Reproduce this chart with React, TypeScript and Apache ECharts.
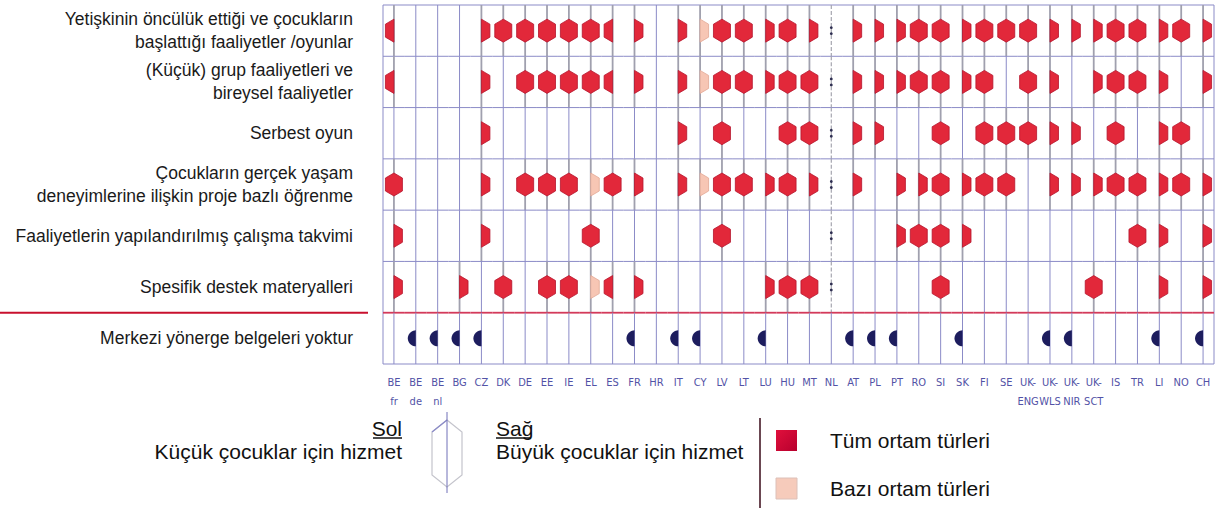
import React, { useEffect, useRef } from "react";
import * as echarts from "echarts";

const countries = ["BE\nfr","BE\nde","BE\nnl","BG","CZ","DK","DE","EE","IE","EL","ES","FR","HR","IT","CY","LV","LT","LU","HU","MT","NL","AT","PL","PT","RO","SI","SK","FI","SE","UK-\nENG","UK-\nWLS","UK-\nNIR","UK-\nSCT","IS","TR","LI","NO","CH"];

const rowLabels = [
  "Yetişkinin öncülük ettiği ve çocukların\nbaşlattığı faaliyetler /oyunlar",
  "(Küçük) grup faaliyetleri ve\nbireysel faaliyetler",
  "Serbest oyun",
  "Çocukların gerçek yaşam\ndeneyimlerine ilişkin proje bazlı öğrenme",
  "Faaliyetlerin yapılandırılmış çalışma takvimi",
  "Spesifik destek materyalleri",
  "Merkezi yönerge belgeleri yoktur",
];

// F = both (all settings), L = younger children only, R = older children only,
// r = older children only (some settings), ":" = not available, "" = none
const adultLedActivities = ["L","","","","R","F","F","F","F","F","L","R","","R","r","F","F","R","F","R",":","R","R","R","F","F","R","F","F","F","R","R","R","F","F","R","F","R"];
const groupActivities    = ["L","","","","R","","F","F","F","F","L","R","","R","r","F","F","R","F","F",":","R","R","R","F","F","R","F","","F","R","","R","F","F","R","","R"];
const freePlay           = ["","","","","R","","","","","","","","","R","","F","","","F","F",":","R","R","","","F","","F","F","F","R","R","","F","","R","F",""];
const projectLearning    = ["F","","","","R","","F","F","F","r","F","R","","R","r","F","F","R","F","R",":","R","","R","R","F","R","F","F","","R","R","R","F","F","R","F","R"];
const structuredSchedule = ["R","","","","R","","","","","F","","","","","","F","","","","",":","","","R","F","F","R","","","","","","","","F","R","","R"];
const supportMaterials   = ["R","","","R","","F","","F","F","r","L","R","","","","","","R","F","F",":","","","","","F","","","","","","","F","","","R","","R"];
// 1 = no central guidance documents (younger children)
const noCentralGuidance  = [0,1,1,1,1,0,0,0,0,0,0,1,0,1,1,0,0,1,0,0,0,1,1,1,0,0,1,0,0,0,1,1,0,0,0,1,0,1];

const activityRows = [adultLedActivities, groupActivities, freePlay, projectLearning, structuredSchedule, supportMaterials];

const RED = "#e2283a";
const RED_EDGE = "#b5142c";
const PINK = "#f7c6b4";
const PINK_EDGE = "#e2a896";
const NAVY = "#1d1d5e";
const GRIDC = "#8b8bc7";

function hasFont(name: string): boolean {
  try {
    const ctx = document.createElement("canvas").getContext("2d");
    if (!ctx) return false;
    const t = "BE UK-ENG WLS NIR";
    ctx.font = "20px monospace";
    const a = ctx.measureText(t).width;
    ctx.font = `20px '${name}', monospace`;
    const b = ctx.measureText(t).width;
    return Math.abs(a - b) > 0.5;
  } catch (e) {
    return false;
  }
}

export default function App() {
  const ref = useRef<HTMLDivElement>(null);
  useEffect(() => {
    document.body.style.margin = "0";
    if (!ref.current) return;
    const chart = echarts.init(ref.current, undefined, { renderer: "svg" });

    const regular = "'Liberation Sans', Arial, sans-serif";
    const condensed = hasFont("Liberation Sans Narrow")
      ? "'Liberation Sans Narrow'"
      : hasFont("DejaVu Sans Condensed")
      ? "'DejaVu Sans Condensed'"
      : null;
    const xFont = condensed ? `${condensed}, ${regular}` : regular;
    const xSize = condensed ? 11 : 10;

    const G = { left: 383, top: 5, width: 831, height: 359 };
    const rowH = G.height / 7;
    const redY = G.top + rowH * 6;

    const cells: number[][] = [];
    for (let r = 0; r < 7; r++) for (let i = 0; i < countries.length; i++) cells.push([i, r]);

    const codeOf = (i: number, r: number): string =>
      r < 6 ? activityRows[r][i] : noCentralGuidance[i] ? "N" : "";

    const gridSeries = {
      type: "custom",
      z: 1,
      silent: true,
      clip: false,
      data: cells,
      renderItem: (params: any, api: any) => {
        const i = api.value(0);
        const r = api.value(1);
        const c = api.coord([i, r]);
        const s = api.size([1, 1]);
        const cx = c[0], cy = c[1], w = s[0], h = s[1];
        const top = cy - h / 2, bot = cy + h / 2;
        const code = codeOf(i, r);
        const children: any[] = [];
        if (code === ":") {
          children.push({ type: "line", shape: { x1: cx, y1: top, x2: cx, y2: bot }, style: { stroke: "#a6a6b0", lineWidth: 1.2, lineDash: [4, 2] } });
          children.push({ type: "circle", shape: { cx, cy: cy - 3, r: 1.4 }, style: { fill: "#2d2d50" } });
          children.push({ type: "circle", shape: { cx, cy: cy + 3, r: 1.4 }, style: { fill: "#2d2d50" } });
        } else if (code && code !== "N") {
          children.push({ type: "line", shape: { x1: cx, y1: top, x2: cx, y2: bot }, style: { stroke: "#a0a0ae", lineWidth: 1.8 } });
        } else {
          children.push({ type: "line", shape: { x1: cx, y1: top, x2: cx, y2: bot }, style: { stroke: GRIDC, lineWidth: 1 } });
        }
        if (r < 6) {
          const red = r === 5;
          children.push({ type: "line", shape: { x1: cx - w / 2, y1: bot, x2: cx + w / 2, y2: bot }, style: { stroke: red ? "#d33a5a" : GRIDC, lineWidth: red ? 1.8 : 1 } });
        }
        return { type: "group", children };
      },
    };

    const hw = 8.5, hh = 11.5, sh = 6.5;
    const markSeries = {
      type: "custom",
      z: 3,
      silent: true,
      clip: false,
      data: cells,
      renderItem: (params: any, api: any) => {
        const i = api.value(0);
        const r = api.value(1);
        const code = codeOf(i, r);
        if (!code || code === ":") return { type: "group", children: [] };
        const c = api.coord([i, r]);
        const cx = c[0], cy = c[1];
        const children: any[] = [];
        if (code === "N") {
          const pts: number[][] = [];
          const R = 8;
          for (let k = 0; k <= 20; k++) {
            const a = Math.PI / 2 + (Math.PI * k) / 20;
            pts.push([cx + R * Math.cos(a), cy + R * Math.sin(a)]);
          }
          children.push({ type: "polygon", shape: { points: pts }, style: { fill: NAVY } });
        } else if (code === "F") {
          children.push({
            type: "polygon",
            shape: { points: [[cx, cy - hh], [cx + hw, cy - sh], [cx + hw, cy + sh], [cx, cy + hh], [cx - hw, cy + sh], [cx - hw, cy - sh]] },
            style: { fill: RED, stroke: RED_EDGE, lineWidth: 0.8 },
          });
        } else {
          const dir = code === "L" ? -1 : 1;
          const pink = code === "r";
          children.push({
            type: "polygon",
            shape: { points: [[cx, cy - hh], [cx + dir * hw, cy - sh], [cx + dir * hw, cy + sh], [cx, cy + hh]] },
            style: { fill: pink ? PINK : RED, stroke: pink ? PINK_EDGE : RED_EDGE, lineWidth: 0.8 },
          });
        }
        return { type: "group", children };
      },
    };

    const txt = (text: string, x: number, y: number, align: string) => ({
      type: "text",
      x,
      y,
      silent: true,
      style: { text, fill: "#111111", font: `21px ${regular}`, align, verticalAlign: "middle" },
    });
    const ln = (x1: number, y1: number, x2: number, y2: number, stroke: string, lineWidth: number) => ({
      type: "line",
      silent: true,
      shape: { x1, y1, x2, y2 },
      style: { stroke, lineWidth },
    });

    const hx = 447, hTop = 420, hBot = 487, hW = 15;
    const graphic = [
      ln(0, redY, 368, redY, "#c8102e", 2),
      txt("Sol", 402, 428, "right"),
      ln(373, 438, 402, 438, "#111111", 1.5),
      txt("Küçük çocuklar için hizmet", 402, 451, "right"),
      {
        type: "polygon",
        silent: true,
        shape: { points: [[hx, hTop], [hx + hW, hTop + 12], [hx + hW, hBot - 12], [hx, hBot], [hx - hW, hBot - 12], [hx - hW, hTop + 12]] },
        style: { fill: "none", stroke: "#c4c4cc", lineWidth: 1.2 },
      },
      ln(hx - hW, hTop + 12, hx, hTop, "#8a8ac8", 1.2),
      ln(hx, hTop - 8, hx, hBot + 6, "#7070b8", 1),
      txt("Sağ", 496, 428, "left"),
      ln(496, 438, 531, 438, "#111111", 1.5),
      txt("Büyük çocuklar için hizmet", 496, 451, "left"),
      ln(760, 418, 760, 508, "#3a0a18", 1.5),
      {
        type: "rect",
        silent: true,
        shape: { x: 776, y: 430, width: 21, height: 21 },
        style: {
          fill: new echarts.graphic.LinearGradient(0, 0, 1, 1, [
            { offset: 0, color: "#e0103c" },
            { offset: 1, color: "#b8002e" },
          ]),
        },
      },
      txt("Tüm ortam türleri", 830, 440, "left"),
      {
        type: "rect",
        silent: true,
        shape: { x: 776, y: 478, width: 21, height: 21 },
        style: { fill: "#f6cbbb", stroke: "#dcc0b8", lineWidth: 1 },
      },
      txt("Bazı ortam türleri", 830, 488, "left"),
    ];

    const option = {
      animation: false,
      grid: {
        left: G.left, top: G.top, width: G.width, height: G.height,
        show: true, borderColor: GRIDC, borderWidth: 1, backgroundColor: "transparent",
        containLabel: false, outerBoundsMode: "none",
      },
      xAxis: {
        type: "category",
        data: countries,
        axisLine: { show: false },
        axisTick: { show: false },
        splitLine: { show: false },
        axisLabel: { interval: 0, margin: 9, color: "#5252a6", fontSize: xSize, fontFamily: xFont, lineHeight: 19, verticalAlign: "top" },
      },
      yAxis: {
        type: "category",
        data: rowLabels,
        inverse: true,
        axisLine: { show: false },
        axisTick: { show: false },
        splitLine: { show: false },
        axisLabel: { interval: 0, margin: 30, color: "#1a1a1a", fontSize: 17.5, fontFamily: regular, lineHeight: 23, align: "right" },
      },
      series: [gridSeries, markSeries],
      graphic,
    };
    chart.setOption(option as any);
    return () => chart.dispose();
  }, []);
  return <div ref={ref} style={{ width: 1219, height: 509 }} />;
}
